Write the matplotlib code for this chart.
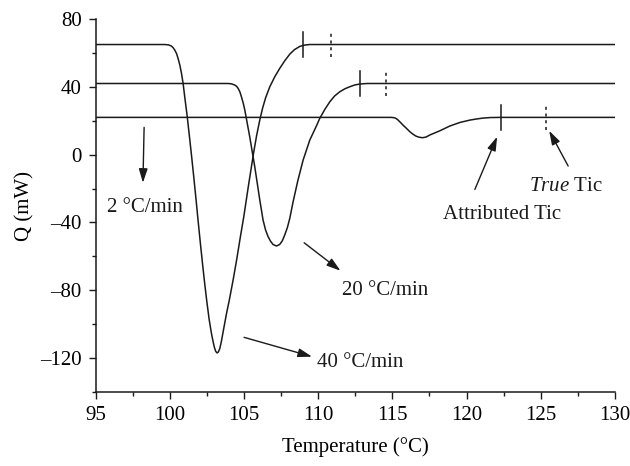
import matplotlib
matplotlib.use("Agg")
import matplotlib.pyplot as plt
from matplotlib.ticker import MultipleLocator

# --- data (temperature in deg C, heat flow in mW) ---
temp_40 = [95, 99.65, 99.9, 100.1, 100.22, 100.33, 100.45, 100.55, 100.67, 100.78,
           100.89, 101.0, 101.16, 101.3, 101.45, 101.6, 101.75, 101.9, 102.05,
           102.2, 102.35, 102.5, 102.65, 102.8, 102.91, 103.0, 103.09, 103.18,
           103.27, 103.37, 103.47, 103.63, 103.81, 104.0, 104.26, 104.5, 104.75,
           104.98, 105.3, 105.65, 105.85, 106.06, 106.25, 106.45, 106.73, 107.07,
           107.41, 107.75, 108.08, 108.4, 108.76, 109.1, 109.43, 110.0, 130]
q_40 = [65, 65, 64.8, 64.1, 63.1, 61.7, 59.6, 56.8, 52.8, 48,
        42, 34, 23, 12, 0, -12.5, -25.5, -39, -52,
        -64.5, -76.5, -87.5, -97.5, -105.5, -110.3, -113.8, -116.1, -117,
        -116.4, -114.2, -110.2, -102.5, -94, -86, -74, -62, -48.5,
        -36.6, -18, 1.5, 11.5, 20.5, 27.5, 33.5, 40, 46,
        51, 55.5, 59.3, 62, 63.9, 64.7, 65, 65, 65]

temp_20 = [95, 103.92, 104.15, 104.37, 104.5, 104.6, 104.72, 104.82, 104.94, 105.05,
           105.38, 105.72, 106.06, 106.28, 106.45, 106.62, 106.78, 106.95, 107.18,
           107.4, 107.58, 107.74, 107.92, 108.08, 108.3, 108.62, 108.98, 109.43,
           109.88, 110.1, 110.45, 110.78, 111.1, 111.45, 111.8, 112.13, 112.45,
           112.8, 113.3, 130]
q_20 = [42, 42, 41.8, 41.1, 40.3, 39.1, 37, 34.2, 30.5, 26.3,
        10.6, -7.1, -26.8, -38.6, -44.5, -48.4, -51, -53, -53.9,
        -53, -50.8, -47.4, -43, -37.6, -28, -15.5, -3.2, 8.6,
        17.0, 21.4, 26.8, 31.2, 34.6, 37.1, 38.9, 40.1, 41.1,
        41.7, 42, 42]

temp_2 = [95, 114.9, 115.05, 115.2, 115.35, 115.5, 115.72, 115.95, 116.17, 116.4,
          116.6, 116.8, 117.03, 117.27, 117.52, 117.85, 118.2, 118.87, 119.55,
          120.22, 120.7, 121.12, 121.6, 122.24, 130]
q_2 = [22, 22, 21.9, 21.6, 20.7, 19.4, 17.4, 15.5, 13.6, 12,
       10.9, 10.3, 10, 10.4, 11.6, 12.8, 14.1, 16.9, 19,
       20.4, 21.1, 21.6, 21.9, 22, 22]

# attributed (solid) and true (dotted) tic temperatures, with the baseline they sit on
tic_attributed = [108.98, 112.8, 122.29]
tic_true = [110.83, 114.55, 125.34]
tic_baseline = [65, 42, 22]

rate_labels = ["2 °C/min", "20 °C/min", "40 °C/min"]
x_ticks = [95, 100, 105, 110, 115, 120, 125, 130]
y_ticks = [-120, -80, -40, 0, 40, 80]

# --- annotation placement (tail -> head, label anchor) ---
ARROWS = [((98.26, 16.1), (98.18, -16.6)),
          ((109.05, -52.0), (111.5, -68.5)),
          ((105.0, -107.8), (109.58, -119.2)),
          ((120.56, -20.5), (122.06, 10.6)),
          ((126.85, -6.7), (125.57, 14.1))]
RATE_TEXT_POS = [(95.73, -31.1), (111.59, -80.3), (109.9, -122.5)]
ATTR_TEXT_POS = (118.4, -35.6)
TRUE_TEXT_POS = (124.2, -19.0)
TIC_HALF = 7.5
FS = 15

plt.rcParams['font.family'] = ['Liberation Serif', 'DejaVu Serif']
plt.rcParams['mathtext.fontset'] = 'custom'
plt.rcParams['mathtext.rm'] = 'Liberation Serif'
plt.rcParams['mathtext.it'] = 'Liberation Serif:italic'

fig = plt.figure(figsize=(6.3, 4.66), dpi=100)
ax = fig.add_axes([0.152, 0.159, 0.824, 0.800])

lw = 1.1
for t, q in [(temp_40, q_40), (temp_20, q_20), (temp_2, q_2)]:
    ax.plot(t, q, color='#1a1a1a', lw=lw, solid_joinstyle='round')

for xa, xt, yb in zip(tic_attributed, tic_true, tic_baseline):
    ax.plot([xa, xa], [yb - TIC_HALF, yb + TIC_HALF], color='#1a1a1a', lw=lw)
    ax.plot([xt, xt], [yb - TIC_HALF, yb + TIC_HALF], color='#1a1a1a', lw=lw,
            linestyle=(0, (2.0, 2.4)))

arrow_kw = dict(arrowstyle='-|>,head_length=0.7,head_width=0.22', color='#1a1a1a',
                lw=1.0, mutation_scale=12, shrinkA=0, shrinkB=0)
for tail, head in ARROWS:
    ax.annotate('', xy=head, xytext=tail, arrowprops=arrow_kw)

for label, (x, y) in zip(rate_labels, RATE_TEXT_POS):
    ax.text(x, y, label, fontsize=FS, ha='left', va='center', color='#1a1a1a')
ax.text(*ATTR_TEXT_POS, "Attributed Tic", fontsize=FS, ha='left', va='center', color='#1a1a1a')
ax.text(*TRUE_TEXT_POS, r"$\mathit{True}$ Tic", fontsize=FS, ha='left', va='center',
        color='#1a1a1a')

ax.set_xlim(95, 130)
ax.set_ylim(-140, 80)
ax.set_xticks(x_ticks)
ax.set_yticks(y_ticks)
ax.set_yticklabels([f"{v}".replace('-', '\u2013') for v in y_ticks])
ax.xaxis.set_minor_locator(MultipleLocator(2.5))
ax.yaxis.set_minor_locator(MultipleLocator(20))
ax.tick_params(which='major', direction='out', length=5, width=1.0, labelsize=FS, pad=5,
               color='#1a1a1a')
ax.tick_params(which='minor', direction='out', length=3, width=1.0, color='#1a1a1a')

for side in ['top', 'right']:
    ax.spines[side].set_visible(False)
for side in ['left', 'bottom']:
    ax.spines[side].set_linewidth(1.1)
    ax.spines[side].set_color('#1a1a1a')

ax.set_xlabel("Temperature (°C)", fontsize=FS, labelpad=9)
ax.set_ylabel("Q (mW)", fontsize=FS, labelpad=4)

fig.savefig("out.png", dpi=100)
